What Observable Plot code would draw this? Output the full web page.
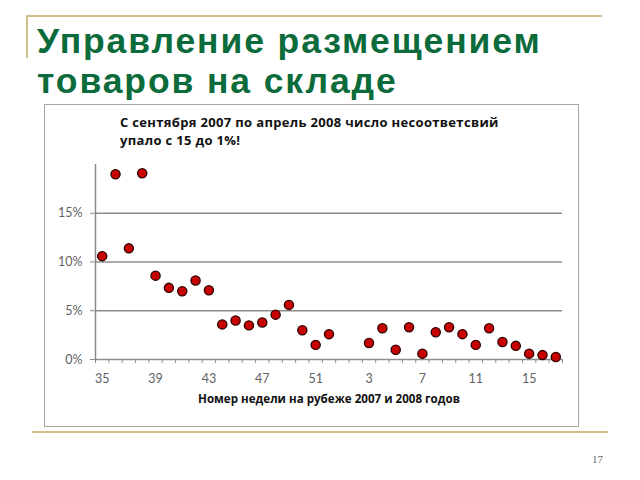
<!DOCTYPE html>
<html>
<head>
<meta charset="utf-8">
<script src="https://cdn.jsdelivr.net/npm/d3@7"></script>
<script src="https://cdn.jsdelivr.net/npm/@observablehq/plot@0.6"></script>
<style>
  html, body { margin: 0; padding: 0; background: #fff; }
  body { position: relative; width: 640px; height: 480px; overflow: hidden; font-family: "Liberation Sans", Arial, sans-serif; }
  .gold { position: absolute; background: #cfc08a; }
  .tline { position: absolute; left: 37px; margin: 0; font: bold 35.5px/36px "Liberation Sans", Arial, sans-serif; letter-spacing: 1.9px; color: #0b6b3b; white-space: nowrap; }
  #box { position: absolute; left: 44px; top: 104px; width: 533px; height: 321px; border: 1px solid #a6a6a6; }
  .sline { position: absolute; left: 120px; margin: 0; font: bold 13px/16px "Open Sans", sans-serif; letter-spacing: 0.33px; color: #111; white-space: nowrap; }
  #chart { position: absolute; left: 44px; top: 104px; }
  #pagenum { position: absolute; left: 592px; top: 453.8px; font: 11px/11px "Liberation Serif", serif; color: #6b6b6b; }
</style>
</head>
<body>
<div class="gold" style="left:26px;top:15px;width:576px;height:2px"></div>
<div class="gold" style="left:26px;top:15px;width:2px;height:43px"></div>
<div class="gold" style="left:32px;top:431px;width:576px;height:2px"></div>
<div class="tline" style="top:23px">Управление размещением</div>
<div class="tline" style="top:62.9px">товаров на складе</div>
<div id="box"></div>
<div id="chart"></div>
<div class="sline" style="top:114.2px">С сентября 2007 по апрель 2008 число несоответсвий</div>
<div class="sline" style="top:131.9px">упало с 15 до 1%!</div>
<div id="pagenum">17</div>
<script>
// Week numbers at the turn of 2007/2008
const weeks = [35,36,37,38,39,40,41,42,43,44,45,46,47,48,49,50,51,52,1,2,3,4,5,6,7,8,9,10,11,12,13,14,15,16,17];
// Share of non-conformities (null = no data)
const share = [0.106,0.190,0.114,0.191,0.086,0.0735,0.070,0.081,0.071,0.036,0.040,0.035,0.038,0.046,0.056,0.030,0.015,0.026,
               null,null,0.017,0.032,0.010,0.033,0.006,0.028,0.033,0.026,0.015,0.032,0.018,0.014,0.006,0.0045,0.0025];
const yTicks = [0, 0.05, 0.10, 0.15];
const yGrid = [0.05, 0.10, 0.15];
const xLabelStep = 4;
const xTitle = "Номер недели на рубеже 2007 и 2008 годов";

const points = weeks.map((w, i) => ({i, w, v: share[i]})).filter(d => d.v != null);
const labelIdx = weeks.map((_, i) => i).filter(i => i % xLabelStep === 0);
const bounds = d3.range(weeks.length + 1).map(i => i - 0.5);

const chart = Plot.plot({
  width: 534,
  height: 322,
  marginLeft: 51,
  marginRight: 16,
  marginTop: 60,
  marginBottom: 67,
  x: {type: "linear", domain: [-0.5, weeks.length - 0.5]},
  y: {domain: [0, 0.2]},
  style: {fontFamily: "Lato, sans-serif", fontSize: "12.5px", color: "#5f5f5f", background: "transparent", overflow: "visible"},
  marks: [
    Plot.ruleY(yGrid, {stroke: "#8c8c8c", strokeWidth: 1.5}),
    Plot.ruleY([0], {stroke: "#8c8c8c", strokeWidth: 1.5}),
    Plot.ruleX([-0.5], {y1: 0, y2: 0.2, stroke: "#8c8c8c", strokeWidth: 1.5}),
    Plot.axisY({ticks: yTicks, tickFormat: d3.format(".0%"), tickSize: 5, tickPadding: 8, stroke: "#8c8c8c", label: null}),
    Plot.axisX({ticks: bounds, tickSize: 4, tickFormat: () => "", stroke: "#8c8c8c", label: null}),
    Plot.axisX({ticks: labelIdx, tickSize: 0, tickPadding: 15, tickFormat: i => String(weeks[i]), label: null}),
    Plot.text([xTitle], {text: d => d, frameAnchor: "bottom", dy: 43, fontFamily: "Open Sans, sans-serif", fontWeight: "bold", fontSize: 11.6, fill: "#111"}),
    Plot.dot(points, {x: "i", y: "v", r: 4.6, fill: "#c80000", stroke: "#2b0000", strokeWidth: 1.3})
  ]
});
document.getElementById("chart").appendChild(chart);
</script>
</body>
</html>
